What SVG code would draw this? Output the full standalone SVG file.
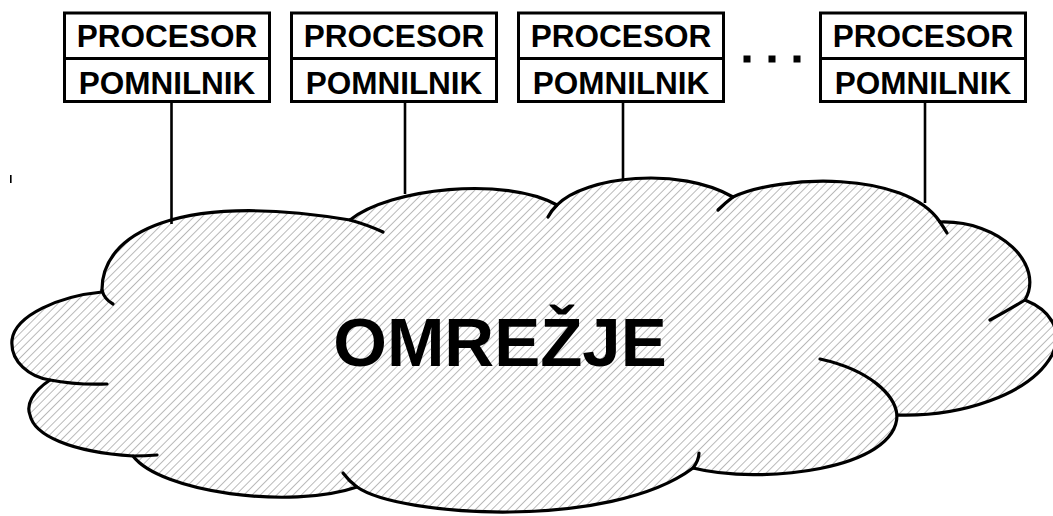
<svg xmlns="http://www.w3.org/2000/svg" width="1053" height="516" viewBox="0 0 1053 516">
  <style>
    .box { fill: #ffffff; stroke: #000000; stroke-width: 3; }
    .lbl { font-family: "Liberation Sans", Arial, sans-serif; font-weight: bold; font-size: 31.5px; fill: #000000; text-anchor: middle; }
    .wire { stroke: #000000; stroke-width: 2.6; fill: none; }
    .outline { stroke: #000000; stroke-width: 3.2; fill: none; stroke-linecap: round; stroke-linejoin: round; }
    .body { fill: url(#hatch); }
    .title { font-family: "Liberation Sans", Arial, sans-serif; font-weight: bold; font-size: 69px; fill: #000000; text-anchor: middle; }
  </style>
  <defs>
    <pattern id="hatch" width="5.8" height="20" patternUnits="userSpaceOnUse" patternTransform="rotate(45)">
      <line x1="0" y1="0" x2="0" y2="20" stroke="#8c8c8c" stroke-width="1.2"/>
    </pattern>
  </defs>

  <rect width="1053" height="516" fill="#ffffff"/>

  <!-- network cloud -->
  <g id="network">
    <path class="outline body" d="
      M102,292
      C100,232 180,192 350,220
      C390,188 505,176 557,205
      C585,176 680,166 733,197
      C780,175 905,170 940,222
      C1000,220 1045,265 1025,300
      C1050,310 1064,330 1052,355
      C1030,395 960,417 897,415
      C897,470 760,485 693,468
      C610,530 400,517 357,487
      C290,510 160,492 133,456
      C70,452 34,435 30,415
      C26,405 32,392 50,380
      C30,377 10,362 12,340
      C15,315 60,296 102,292 Z"/>
    <!-- inner lobe ends -->
    <path class="outline" d="M102,290 Q104,299 113,304"/>
    <path class="outline" d="M350,220 Q368,225 383,232"/>
    <path class="outline" d="M557,205 Q551,211 548,217"/>
    <path class="outline" d="M733,197 Q725,203 718,210"/>
    <path class="outline" d="M940,222 Q944,228 947,233"/>
    <path class="outline" d="M1025,300 Q1005,312 990,320"/>
    <path class="outline" d="M897,415 C895,395 870,370 820,359"/>
    <path class="outline" d="M693,468 Q699,460 699,453"/>
    <path class="outline" d="M357,487 Q349,481 343,473"/>
    <path class="outline" d="M133,456 Q145,456 157,455"/>
    <path class="outline" d="M50,380 Q75,385 107,384"/>
    <text class="title" x="500" y="366">OMREŽJE</text>
  </g>

  <!-- links from each node down to the network -->
  <g id="connectors">
    <line class="wire" x1="171.5" y1="101.5" x2="171.5" y2="224"/>
    <line class="wire" x1="405" y1="101.5" x2="405" y2="194"/>
    <line class="wire" x1="623" y1="101.5" x2="623" y2="180"/>
    <line class="wire" x1="925" y1="101.5" x2="925" y2="203"/>
  </g>

  <g id="node1">
    <rect class="box" x="64.5" y="13" width="205" height="88.5"/>
    <line class="box" x1="64.5" y1="58.5" x2="269.5" y2="58.5"/>
    <text class="lbl" x="167" y="46.5">PROCESOR</text>
    <text class="lbl" x="167" y="94">POMNILNIK</text>
  </g>
  <g id="node2">
    <rect class="box" x="291.5" y="13" width="205" height="88.5"/>
    <line class="box" x1="291.5" y1="58.5" x2="496.5" y2="58.5"/>
    <text class="lbl" x="394" y="46.5">PROCESOR</text>
    <text class="lbl" x="394" y="94">POMNILNIK</text>
  </g>
  <g id="node3">
    <rect class="box" x="518.5" y="13" width="205" height="88.5"/>
    <line class="box" x1="518.5" y1="58.5" x2="723.5" y2="58.5"/>
    <text class="lbl" x="621" y="46.5">PROCESOR</text>
    <text class="lbl" x="621" y="94">POMNILNIK</text>
  </g>
  <g id="ellipsis">
    <rect x="743.5" y="55.5" width="7" height="7" fill="#000000"/>
    <rect x="768.5" y="55.5" width="7" height="7" fill="#000000"/>
    <rect x="793.5" y="55.5" width="7" height="7" fill="#000000"/>
  </g>
  <g id="node4">
    <rect class="box" x="820.5" y="13" width="205" height="88.5"/>
    <line class="box" x1="820.5" y1="58.5" x2="1025.5" y2="58.5"/>
    <text class="lbl" x="923" y="46.5">PROCESOR</text>
    <text class="lbl" x="923" y="94">POMNILNIK</text>
  </g>

  <rect x="10" y="175" width="1.6" height="8" fill="#000000"/>
</svg>
